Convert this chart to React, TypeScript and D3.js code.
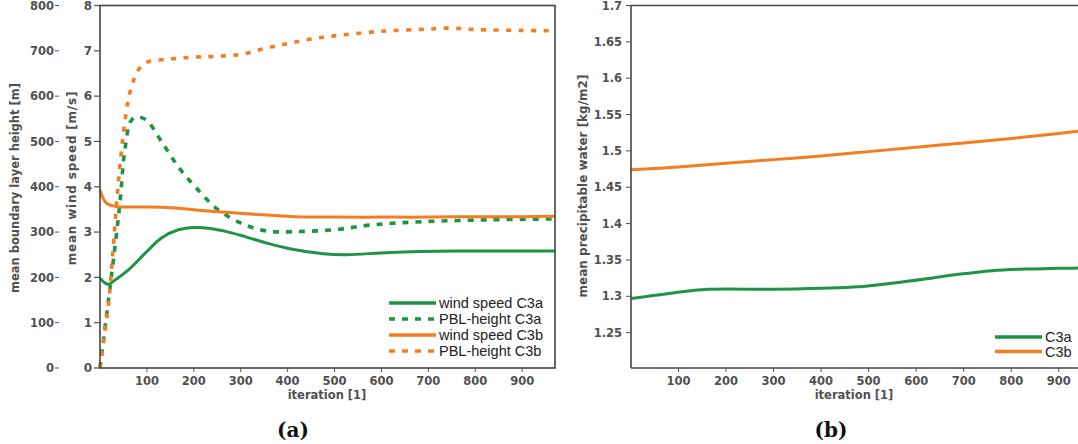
import React from 'react';
import * as d3 from 'd3';

// left panel (a): wind speed [m/s] and PBL height [m] vs iteration
const windC3aIter = [0, 10, 18, 32, 60, 96, 131, 167, 203, 235, 270, 309, 358, 410, 476, 526, 618, 760, 970];
const windC3aVal = [1.98, 1.88, 1.85, 1.94, 2.16, 2.53, 2.87, 3.05, 3.1, 3.08, 3.01, 2.9, 2.75, 2.62, 2.52, 2.5, 2.55, 2.58, 2.58];

const pblC3aIter = [0, 18, 32, 43, 53, 67, 81, 99, 131, 167, 203, 252, 309, 358, 416, 497, 582, 689, 832, 970];
const pblC3aVal = [0, 150, 268, 370, 481, 547, 554, 547, 500, 444, 400, 349, 316, 302, 301, 305, 316, 323, 327, 329];

const windC3bIter = [0, 5, 11, 20, 38, 131, 252, 416, 500, 600, 700, 800, 900, 970];
const windC3bVal = [3.93, 3.78, 3.67, 3.6, 3.56, 3.55, 3.45, 3.34, 3.33, 3.33, 3.33, 3.34, 3.34, 3.35];

const pblC3bIter = [0, 18, 25, 39, 50, 60, 70, 80, 90, 100, 150, 200, 250, 300, 350, 400, 450, 500, 600, 700, 750, 800, 900, 970];
const pblC3bVal = [0, 140, 224, 408, 518, 590, 630, 655, 668, 675, 682, 686, 688, 692, 705, 716, 726, 733, 743, 748, 750, 747, 745, 744];

// right panel (b): precipitable water [kg/m2]
const pwC3aIter = [0, 80, 162, 303, 400, 478, 549, 620, 689, 760, 830, 900, 970];
const pwC3aVal = [1.297, 1.304, 1.3096, 1.3096, 1.311, 1.313, 1.318, 1.324, 1.3303, 1.3353, 1.3376, 1.3385, 1.339];
const pwC3bIter = [0, 100, 200, 300, 400, 500, 600, 700, 800, 900, 970];
const pwC3bVal = [1.474, 1.478, 1.483, 1.488, 1.493, 1.499, 1.505, 1.511, 1.517, 1.524, 1.529];

const xTicks = [100, 200, 300, 400, 500, 600, 700, 800, 900];
const windTicks = [0, 1, 2, 3, 4, 5, 6, 7, 8];
const pblTicks = [0, 100, 200, 300, 400, 500, 600, 700, 800];
const pwTicks = [1.25, 1.3, 1.35, 1.4, 1.45, 1.5, 1.55, 1.6, 1.65, 1.7];

const legendA = ['wind speed C3a', 'PBL-height C3a', 'wind speed C3b', 'PBL-height C3b'];
const legendB = ['C3a', 'C3b'];

const GREEN = '#1f9444';
const ORANGE = '#f47d22';
const TICKFONT = '"DejaVu Sans", sans-serif';
const TICKCOL = '#505050';
const FRAME = '#444';

const zip = (xs: number[], ys: number[]) => xs.map((x, i) => [x, ys[i]] as [number, number]);

export default function App() {
  const top = 5.5, bottom = 368;
  const xa = d3.scaleLinear().domain([0, 970]).range([100, 555]);
  const yWind = d3.scaleLinear().domain([0, 8]).range([bottom, top]);
  const yPbl = d3.scaleLinear().domain([0, 800]).range([bottom, top]);
  const xb = d3.scaleLinear().domain([0, 970]).range([631, 1092]);
  const yPw = d3.scaleLinear().domain([1.2, 1.7]).range([369, top]);

  const curve = d3.curveCatmullRom.alpha(0.5);
  const lineA = d3.line<[number, number]>().x(d => xa(d[0])).y(d => yWind(d[1])).curve(curve);
  const lineP = d3.line<[number, number]>().x(d => xa(d[0])).y(d => yPbl(d[1])).curve(curve);
  const lineB = d3.line<[number, number]>().x(d => xb(d[0])).y(d => yPw(d[1])).curve(curve);

  const seriesA = [
    { d: lineA(zip(windC3aIter, windC3aVal)), c: GREEN, dash: null },
    { d: lineP(zip(pblC3aIter, pblC3aVal)), c: GREEN, dash: '6,7' },
    { d: lineA(zip(windC3bIter, windC3bVal)), c: ORANGE, dash: null },
    { d: lineP(zip(pblC3bIter, pblC3bVal)), c: ORANGE, dash: '5,7.5' },
  ];

  const xAxis = (x: d3.ScaleLinear<number, number>) => (
    <g>
      {xTicks.map(t => (
        <g key={t}>
          <line x1={x(t)} x2={x(t)} y1={bottom} y2={bottom + 4} stroke={TICKCOL} strokeWidth={1} />
          <text x={x(t)} y={385} textAnchor="middle" fontFamily={TICKFONT} fontWeight="bold" fontSize={11.5} fill={TICKCOL}>{t}</text>
        </g>
      ))}
    </g>
  );

  const fmt = (t: number) => String(+t.toFixed(2));

  return (
    <svg width={1078} height={444} style={{ position: 'absolute', left: 0, top: 0, background: '#fff' }}>
      <rect width={1078} height={444} fill="#fff" />
      {/* panel (a) */}
      <g>
        {seriesA.map((s, i) => (
          <path key={i} d={s.d || ''} fill="none" stroke={s.c} strokeWidth={s.dash ? 3.6 : 3} strokeDasharray={s.dash || undefined} />
        ))}
        <rect x={100} y={top} width={455} height={bottom - top} fill="none" stroke={FRAME} strokeWidth={1.6} />
        {windTicks.map(t => (
          <g key={t}>
            <line x1={94} x2={100} y1={yWind(t)} y2={yWind(t)} stroke={TICKCOL} strokeWidth={1.2} />
            <text x={92} y={yWind(t)} dy="0.36em" textAnchor="end" fontFamily={TICKFONT} fontWeight="bold" fontSize={12} fill={TICKCOL}>{t}</text>
          </g>
        ))}
        {pblTicks.map(t => (
          <g key={t}>
            <line x1={55} x2={59} y1={yPbl(t)} y2={yPbl(t)} stroke={TICKCOL} strokeWidth={1} />
            <text x={54} y={yPbl(t)} dy="0.36em" textAnchor="end" fontFamily={TICKFONT} fontWeight="bold" fontSize={11.5} fill={TICKCOL}>{t}</text>
          </g>
        ))}
        {xAxis(xa)}
        <text x={327} y={399} textAnchor="middle" fontFamily={TICKFONT} fontWeight="bold" fontSize={11.5} fill={TICKCOL}>iteration [1]</text>
        <text transform="translate(15,188) rotate(-90)" textAnchor="middle" dy="0.36em" fontFamily={TICKFONT} fontWeight="bold" fontSize={11.5} fill={TICKCOL}>mean boundary layer height [m]</text>
        <text transform="translate(72,178) rotate(-90)" textAnchor="middle" dy="0.36em" fontFamily={TICKFONT} fontWeight="bold" fontSize={12} letterSpacing={0.8} fill={TICKCOL}>mean wind speed [m/s]</text>
        {legendA.map((l, i) => (
          <g key={l} transform={`translate(389,${303 + i * 16})`}>
            <line x1={0} x2={47} y1={0} y2={0} stroke={i < 2 ? GREEN : ORANGE} strokeWidth={3.5} strokeDasharray={i % 2 ? '6,7' : undefined} />
            <text x={50} y={0} dy="0.36em" fontFamily='"Liberation Sans", Arial, sans-serif' fontSize={14.5} fill="#222">{l}</text>
          </g>
        ))}
        <text x={293} y={437} textAnchor="middle" fontFamily='"DejaVu Serif", serif' fontWeight="bold" fontSize={20} fill="#111">(a)</text>
      </g>
      {/* panel (b) */}
      <g>
        <path d={lineB(zip(pwC3aIter, pwC3aVal)) || ''} fill="none" stroke={GREEN} strokeWidth={3} />
        <path d={lineB(zip(pwC3bIter, pwC3bVal)) || ''} fill="none" stroke={ORANGE} strokeWidth={3} />
        <line x1={631} x2={1078} y1={top} y2={top} stroke={FRAME} strokeWidth={1.6} />
        <line x1={631} x2={1078} y1={bottom} y2={bottom} stroke={FRAME} strokeWidth={1.6} />
        <line x1={631} x2={631} y1={top} y2={bottom} stroke={FRAME} strokeWidth={1.6} />
        {pwTicks.map(t => (
          <g key={t}>
            <line x1={626} x2={631} y1={yPw(t)} y2={yPw(t)} stroke={TICKCOL} strokeWidth={1} />
            <text x={622} y={yPw(t)} dy="0.36em" textAnchor="end" fontFamily={TICKFONT} fontWeight="bold" fontSize={11.5} fill={TICKCOL}>{fmt(t)}</text>
          </g>
        ))}
        {xAxis(xb)}
        <text x={854} y={399} textAnchor="middle" fontFamily={TICKFONT} fontWeight="bold" fontSize={11.5} fill={TICKCOL}>iteration [1]</text>
        <text transform="translate(583,186) rotate(-90)" textAnchor="middle" dy="0.36em" fontFamily={TICKFONT} fontWeight="bold" fontSize={12} fill={TICKCOL}>mean precipitable water [kg/m2]</text>
        {legendB.map((l, i) => (
          <g key={l} transform={`translate(995,${337 + i * 14.5})`}>
            <line x1={0} x2={47} y1={0} y2={0} stroke={i === 0 ? GREEN : ORANGE} strokeWidth={3.5} />
            <text x={50} y={0} dy="0.36em" fontFamily='"Liberation Sans", Arial, sans-serif' fontSize={14.5} fill="#222">{l}</text>
          </g>
        ))}
        <text x={831} y={437} textAnchor="middle" fontFamily='"DejaVu Serif", serif' fontWeight="bold" fontSize={20} fill="#111">(b)</text>
      </g>
    </svg>
  );
}
